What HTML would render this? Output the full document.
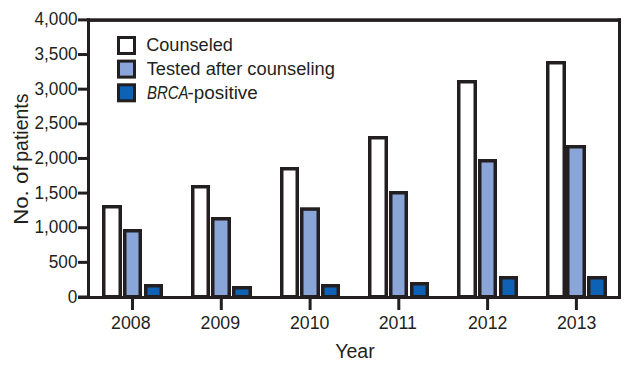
<!DOCTYPE html>
<html><head><meta charset="utf-8"><style>
html,body{margin:0;padding:0;background:#fff;}
svg{display:block;}
text{font-family:"Liberation Sans",sans-serif;fill:#231f20;}
</style></head><body>
<svg width="632" height="368" viewBox="0 0 632 368">
<rect width="632" height="368" fill="#fff"/>
<rect x="102" y="205" width="20" height="94.00" fill="#231f20"/>
<rect x="105.5" y="208.50" width="13.00" height="86.50" fill="#fff"/>
<rect x="123" y="229" width="19" height="70.00" fill="#231f20"/>
<rect x="126.5" y="232.50" width="12.00" height="62.50" fill="#8aa6d8"/>
<rect x="144" y="284" width="19" height="15.00" fill="#231f20"/>
<rect x="147.5" y="287.50" width="12.00" height="7.50" fill="#0d62b5"/>
<rect x="191" y="185" width="19" height="114.00" fill="#231f20"/>
<rect x="194.5" y="188.50" width="12.00" height="106.50" fill="#fff"/>
<rect x="211" y="217" width="20" height="82.00" fill="#231f20"/>
<rect x="214.5" y="220.50" width="13.00" height="74.50" fill="#8aa6d8"/>
<rect x="232" y="286" width="20" height="13.00" fill="#231f20"/>
<rect x="235.5" y="289.50" width="13.00" height="5.50" fill="#0d62b5"/>
<rect x="280" y="167" width="19" height="132.00" fill="#231f20"/>
<rect x="283.5" y="170.50" width="12.00" height="124.50" fill="#fff"/>
<rect x="300" y="207.3" width="20" height="91.70" fill="#231f20"/>
<rect x="303.5" y="210.80" width="13.00" height="84.20" fill="#8aa6d8"/>
<rect x="321" y="284" width="19" height="15.00" fill="#231f20"/>
<rect x="324.5" y="287.50" width="12.00" height="7.50" fill="#0d62b5"/>
<rect x="368" y="136" width="20" height="163.00" fill="#231f20"/>
<rect x="371.5" y="139.50" width="13.00" height="155.50" fill="#fff"/>
<rect x="389" y="191" width="19" height="108.00" fill="#231f20"/>
<rect x="392.5" y="194.50" width="12.00" height="100.50" fill="#8aa6d8"/>
<rect x="410" y="282" width="19" height="17.00" fill="#231f20"/>
<rect x="413.5" y="285.50" width="12.00" height="9.50" fill="#0d62b5"/>
<rect x="457" y="80" width="20" height="219.00" fill="#231f20"/>
<rect x="460.5" y="83.50" width="13.00" height="211.50" fill="#fff"/>
<rect x="478" y="159" width="19" height="140.00" fill="#231f20"/>
<rect x="481.5" y="162.50" width="12.00" height="132.50" fill="#8aa6d8"/>
<rect x="499" y="276" width="19" height="23.00" fill="#231f20"/>
<rect x="502.5" y="279.50" width="12.00" height="15.50" fill="#0d62b5"/>
<rect x="546" y="61" width="20" height="238.00" fill="#231f20"/>
<rect x="549.5" y="64.50" width="13.00" height="230.50" fill="#fff"/>
<rect x="566" y="145" width="20" height="154.00" fill="#231f20"/>
<rect x="569.5" y="148.50" width="13.00" height="146.50" fill="#8aa6d8"/>
<rect x="587" y="276" width="20" height="23.00" fill="#231f20"/>
<rect x="590.5" y="279.50" width="13.00" height="15.50" fill="#0d62b5"/>
<rect x="87" y="18.3" width="534" height="3.6" fill="#231f20"/><rect x="87" y="18.3" width="3" height="280.7" fill="#231f20"/><rect x="618" y="18.3" width="3" height="280.7" fill="#231f20"/><rect x="78" y="296" width="543" height="3" fill="#231f20"/><rect x="78" y="295.50" width="10" height="3" fill="#231f20"/><rect x="78" y="260.86" width="10" height="3" fill="#231f20"/><rect x="78" y="226.22" width="10" height="3" fill="#231f20"/><rect x="78" y="191.59" width="10" height="3" fill="#231f20"/><rect x="78" y="156.95" width="10" height="3" fill="#231f20"/><rect x="78" y="122.31" width="10" height="3" fill="#231f20"/><rect x="78" y="87.67" width="10" height="3" fill="#231f20"/><rect x="78" y="53.04" width="10" height="3" fill="#231f20"/><rect x="78" y="18.40" width="10" height="3" fill="#231f20"/><rect x="131.00" y="297" width="3" height="13" fill="#231f20"/><rect x="219.80" y="297" width="3" height="13" fill="#231f20"/><rect x="308.60" y="297" width="3" height="13" fill="#231f20"/><rect x="397.30" y="297" width="3" height="13" fill="#231f20"/><rect x="486.10" y="297" width="3" height="13" fill="#231f20"/><rect x="574.90" y="297" width="3" height="13" fill="#231f20"/>
<rect x="117" y="36" width="19" height="19" fill="#231f20"/><rect x="120" y="39.00" width="13" height="13" fill="#fff"/><rect x="117" y="59.6" width="19" height="19" fill="#231f20"/><rect x="120" y="62.60" width="13" height="13" fill="#8aa6d8"/><rect x="117" y="83.3" width="19" height="19" fill="#231f20"/><rect x="120" y="86.30" width="13" height="13" fill="#0d62b5"/>
<text transform="translate(67.85,302.50) scale(0.9400,1)" font-size="18.3">0</text>
<text transform="translate(48.76,267.86) scale(0.9400,1)" font-size="18.3">500</text>
<text transform="translate(34.48,233.22) scale(0.9400,1)" font-size="18.3">1,000</text>
<text transform="translate(34.48,198.59) scale(0.9400,1)" font-size="18.3">1,500</text>
<text transform="translate(34.48,163.95) scale(0.9400,1)" font-size="18.3">2,000</text>
<text transform="translate(34.48,129.31) scale(0.9400,1)" font-size="18.3">2,500</text>
<text transform="translate(34.48,94.67) scale(0.9400,1)" font-size="18.3">3,000</text>
<text transform="translate(34.48,60.04) scale(0.9400,1)" font-size="18.3">3,500</text>
<text transform="translate(34.48,25.40) scale(0.9400,1)" font-size="18.3">4,000</text>
<text transform="translate(111.09,329.00) scale(0.9500,1)" font-size="18.7">2008</text>
<text transform="translate(200.59,329.00) scale(0.9500,1)" font-size="18.7">2009</text>
<text transform="translate(289.99,329.00) scale(0.9500,1)" font-size="18.7">2010</text>
<text transform="translate(378.70,329.00) scale(0.9500,1)" font-size="18.7">2011</text>
<text transform="translate(467.89,329.00) scale(0.9500,1)" font-size="18.7">2012</text>
<text transform="translate(556.89,329.00) scale(0.9500,1)" font-size="18.7">2013</text>
<text transform="translate(146.19,50.90) scale(0.9699,1)" font-size="18.7">Counseled</text>
<text transform="translate(146.63,74.75) scale(0.9788,1)" font-size="18.7">Tested after counseling</text>
<text transform="translate(146.95,98.90) scale(0.8011,1)" font-size="18.7"><tspan font-style="italic">BRCA</tspan></text>
<text transform="translate(187.44,98.90) scale(1.0108,1)" font-size="18.7">-positive</text>
<text transform="translate(335.21,358.20) scale(0.9330,1)" font-size="21">Year</text>
<g transform="translate(28.1,223) rotate(-90)"><text transform="translate(-1.78,0) scale(1.0572,1)" font-size="21">No. of</text><text transform="translate(61.24,0) scale(0.9272,1)" font-size="21">patients</text></g>
</svg>
</body></html>
